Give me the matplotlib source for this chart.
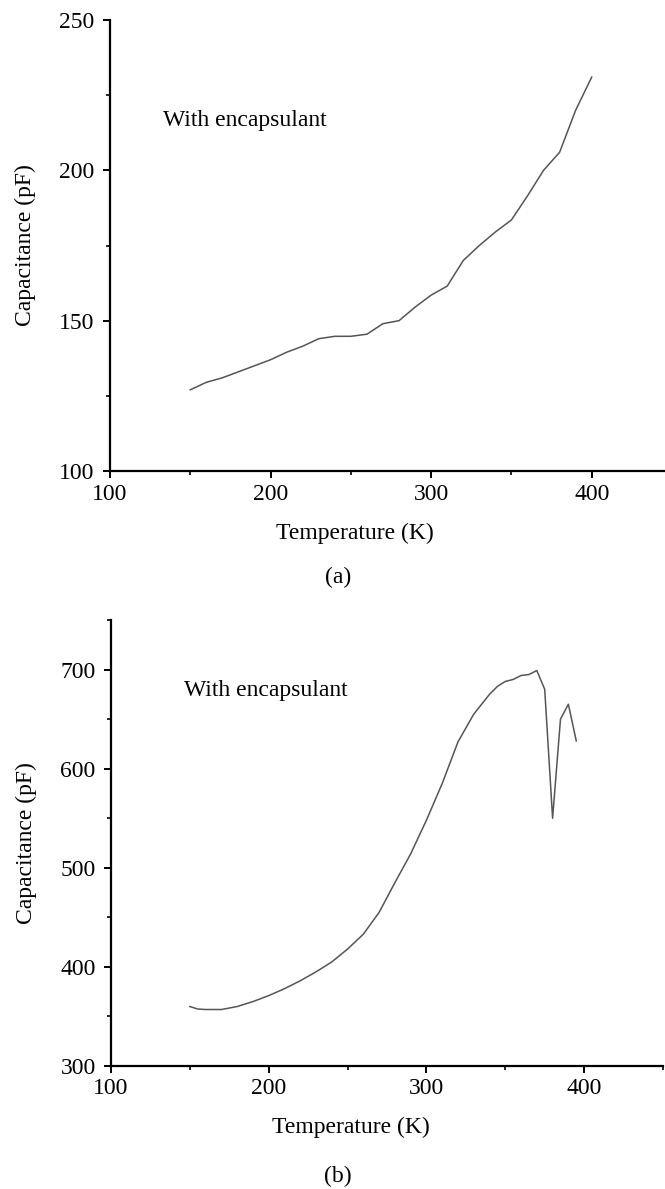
import matplotlib
matplotlib.use("Agg")
import matplotlib.pyplot as plt
from matplotlib.ticker import MultipleLocator

plt.rcParams['font.family'] = ['Liberation Serif', 'DejaVu Serif']

# (a) capacitance vs temperature
temp_a = [150, 160, 170, 180, 190, 200, 210, 220, 230, 240, 250, 260, 270,
          280, 290, 300, 310, 320, 330, 340, 350, 360, 370, 380, 390, 400]
cap_a = [127, 129.5, 131, 133, 135, 137, 139.5, 141.5, 144, 144.8, 144.8,
         145.5, 149, 150, 154.5, 158.5, 161.5, 170, 175, 179.5, 183.5,
         191.5, 200, 206, 220, 231]

# (b) capacitance vs temperature
temp_b = [150, 155, 160, 170, 180, 190, 200, 210, 220, 230, 240, 250, 260,
          270, 280, 290, 300, 310, 320, 330, 340, 345, 350, 355, 360, 365,
          370, 375, 380, 385, 390, 395]
cap_b = [360, 357.5, 357, 357, 360, 365, 371, 378, 386, 395, 405, 418, 433,
         455, 485, 514, 548, 585, 627, 655, 675, 683, 688, 690, 694, 695,
         699, 680, 550, 650, 665, 628]

xticks = [100, 200, 300, 400]
yticks_a = [100, 150, 200, 250]
yticks_b = [300, 400, 500, 600, 700]

W, H = 665, 1189
FS = 17
fig = plt.figure(figsize=(W / 100, H / 100), dpi=100)

def px_axes(left, top, right, bottom):
    return fig.add_axes([left / W, 1 - bottom / H, (right - left) / W, (bottom - top) / H])

ax_a = px_axes(110, 20, 672, 471)
ax_b = px_axes(111, 620, 663, 1066)

panels = [
    (ax_a, temp_a, cap_a, (100, 250), yticks_a, 25, (0.094, 0.778)),
    (ax_b, temp_b, cap_b, (300, 750), yticks_b, 50, (0.132, 0.843)),
]

for ax, t, c, ylim, yt, yminor, txt_pos in panels:
    ax.plot(t, c, color="#555555", lw=1.1)
    ax.set_xlim(100, 450)
    ax.set_ylim(*ylim)
    ax.set_xticks(xticks)
    ax.set_yticks(yt)
    ax.xaxis.set_minor_locator(MultipleLocator(50))
    ax.yaxis.set_minor_locator(MultipleLocator(yminor))
    for s in ["top", "right"]:
        ax.spines[s].set_visible(False)
    for s in ["left", "bottom"]:
        ax.spines[s].set_linewidth(1.6)
        ax.spines[s].set_color("black")
    ax.tick_params(which="major", direction="out", length=5, width=1.4, labelsize=FS)
    ax.tick_params(axis="x", which="major", pad=4)
    ax.tick_params(axis="y", which="major", pad=6)
    ax.tick_params(which="minor", direction="out", length=3, width=1.2)
    ax.set_xlabel("Temperature (K)", fontsize=FS, labelpad=9)
    ax.set_ylabel("Capacitance (pF)", fontsize=FS, labelpad=17)
    ax.xaxis.set_label_coords(0.435, -0.115)
    ax.text(txt_pos[0], txt_pos[1], "With encapsulant",
            transform=ax.transAxes, fontsize=FS, va="center", ha="left")

fig.text(338 / W, 1 - 577 / H, "(a)", fontsize=FS, ha="center", va="center")
fig.text(338 / W, 1 - 1176 / H, "(b)", fontsize=FS, ha="center", va="center")

fig.savefig("out.png", dpi=100)
